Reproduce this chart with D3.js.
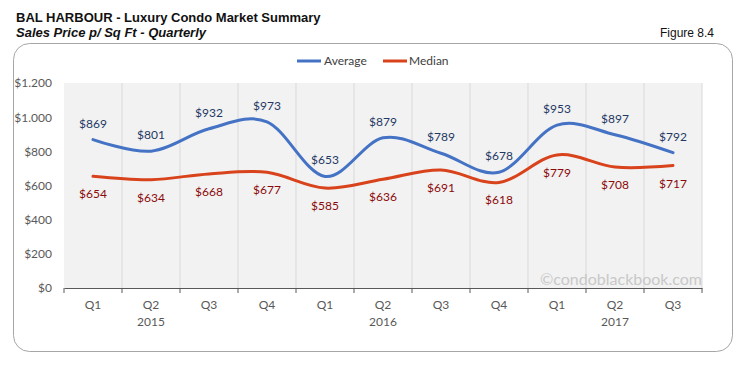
<!DOCTYPE html>
<html><head><meta charset="utf-8">
<script src="https://cdn.jsdelivr.net/npm/d3@7"></script>
<style>body{margin:0;background:#fff}svg{display:block}</style>
</head><body><svg id="c" width="741" height="365"></svg>
<script>
const quarters = ["Q1","Q2","Q3","Q4","Q1","Q2","Q3","Q4","Q1","Q2","Q3"];
const years = [{label:"2015", idx:1},{label:"2016", idx:5},{label:"2017", idx:9}];
const average = [869,801,932,973,653,879,789,678,953,897,792];
const median = [654,634,668,677,585,636,691,618,779,708,717];
const yTicks = [0,200,400,600,800,1000,1200];

const svg = d3.select("#c");
const F = "Lato, 'Open Sans', sans-serif";
const fmt = v => "$" + (v>=1000 ? Math.floor(v/1000)+"."+String(v%1000).padStart(3,"0") : v);

svg.append("text").attr("x",16).attr("y",22).attr("font-family","Arial, 'Liberation Sans'").attr("font-weight","bold").attr("font-size",13).attr("fill","#111").text("BAL HARBOUR - Luxury Condo Market Summary");
svg.append("text").attr("x",16).attr("y",37).attr("font-family","Arial, 'Liberation Sans'").attr("font-weight","bold").attr("font-style","italic").attr("font-size",13).attr("fill","#111").text("Sales Price p/ Sq Ft - Quarterly");
svg.append("text").attr("x",714).attr("y",37).attr("text-anchor","end").attr("font-family","Arial, 'Liberation Sans'").attr("font-size",12).attr("fill","#111").text("Figure 8.4");

svg.append("rect").attr("x",13.5).attr("y",43.5).attr("width",719).attr("height",308).attr("rx",16).attr("fill","#fff").attr("stroke","#a6a6a6");

const x = d3.scaleBand().domain(d3.range(quarters.length)).range([64,702]).padding(0);
const y = d3.scaleLinear().domain([0,1200]).range([288,83]);

svg.append("rect").attr("x",64).attr("y",83).attr("width",638).attr("height",205).attr("fill","#f2f2f2");

const g = svg.append("g");
d3.range(1,quarters.length+1).forEach(i=>{
  g.append("line").attr("x1",x(0)+i*x.bandwidth()).attr("x2",x(0)+i*x.bandwidth()).attr("y1",83).attr("y2",288).attr("stroke","#d9d9d9");
});

const ya = svg.append("g").attr("transform","translate(64,0)")
  .call(d3.axisLeft(y).tickValues(yTicks).tickFormat(fmt).tickSize(0).tickPadding(12));
ya.select(".domain").remove();
ya.selectAll("text").attr("font-family",F).attr("font-size",12).attr("fill","#595959");

const xa = svg.append("g").attr("transform","translate(0,288)")
  .call(d3.axisBottom(x).tickFormat(i=>quarters[i]).tickSize(0).tickPadding(12));
xa.select(".domain").attr("stroke","#595959");
xa.selectAll("text").attr("font-family",F).attr("font-size",12).attr("fill","#595959");
d3.range(0,quarters.length+1).forEach(i=>{
  svg.append("line").attr("x1",64+i*x.bandwidth()).attr("x2",64+i*x.bandwidth()).attr("y1",288).attr("y2",293).attr("stroke","#595959");
});
years.forEach(yr=>{
  svg.append("text").attr("x",x(yr.idx)+x.bandwidth()/2).attr("y",326).attr("text-anchor","middle").attr("font-family",F).attr("font-size",12).attr("fill","#595959").text(yr.label);
});

svg.append("text").attr("x",702).attr("y",285).attr("text-anchor","end").attr("font-family",F).attr("font-size",16).attr("fill","#c8c8c8").text("©condoblackbook.com");

const cx = i => x(i)+x.bandwidth()/2;
const line = d3.line().x((d,i)=>cx(i)).y(d=>y(d)).curve(d3.curveCatmullRom.alpha(0));
svg.append("path").attr("d",line(median)).attr("fill","none").attr("stroke","#d8431c").attr("stroke-width",3).attr("stroke-linecap","round");
svg.append("path").attr("d",line(average)).attr("fill","none").attr("stroke","#4472c4").attr("stroke-width",3).attr("stroke-linecap","round");

average.forEach((v,i)=>{
  svg.append("text").attr("x",cx(i)).attr("y",y(v)-12).attr("text-anchor","middle").attr("font-family",F).attr("font-size",12).attr("fill","#1f3864").text(fmt(v));
});
median.forEach((v,i)=>{
  svg.append("text").attr("x",cx(i)).attr("y",y(v)+22).attr("text-anchor","middle").attr("font-family",F).attr("font-size",12).attr("fill","#8b0a0a").text(fmt(v));
});

const lg = svg.append("g");
lg.append("line").attr("x1",297).attr("x2",321).attr("y1",61).attr("y2",61).attr("stroke","#4472c4").attr("stroke-width",3);
lg.append("text").attr("x",324).attr("y",65).attr("font-family",F).attr("font-size",12).attr("fill","#404040").text("Average");
lg.append("line").attr("x1",383).attr("x2",407).attr("y1",61).attr("y2",61).attr("stroke","#d8431c").attr("stroke-width",3);
lg.append("text").attr("x",409).attr("y",65).attr("font-family",F).attr("font-size",12).attr("fill","#404040").text("Median");
</script></body></html>
